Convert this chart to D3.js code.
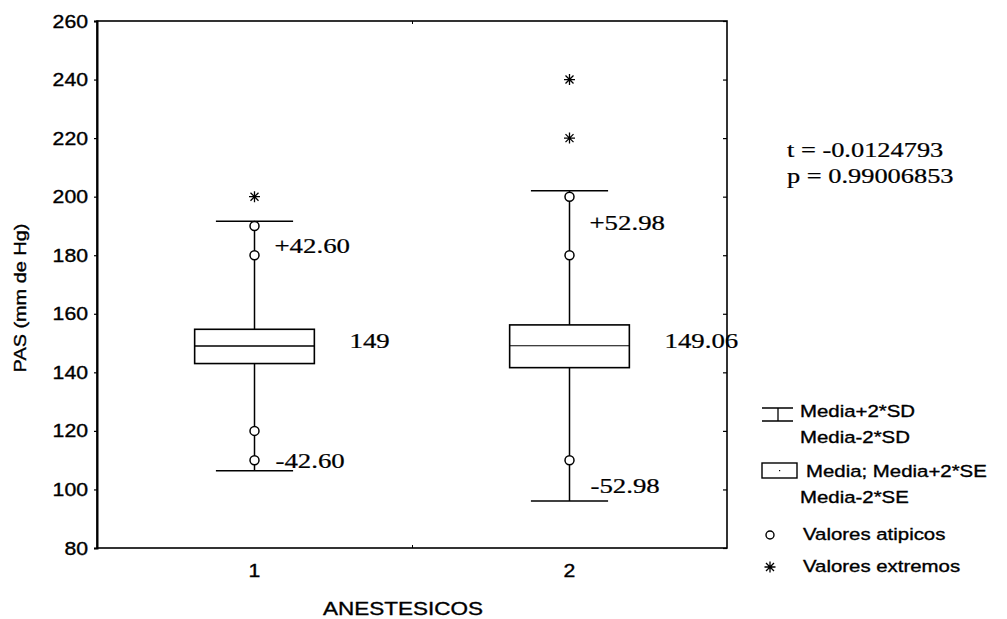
<!DOCTYPE html>
<html>
<head>
<meta charset="utf-8">
<script src="https://cdn.jsdelivr.net/npm/d3@7"></script>
<style>
body { margin: 0; background: #fff; }
</style>
</head>
<body>
<div id="chart"></div>
<script>
// data
var categories = [1, 2];
var means = [149, 149.06];
var twoSD = [42.60, 52.98];
var seUpper = [154.7, 156.2];
var seLower = [143.0, 141.6];
var outliers = [[190, 180, 120, 110], [200, 180, 110]];
var extremes = [[200], [240, 220]];
var yTicks = [80, 100, 120, 140, 160, 180, 200, 220, 240, 260];
var xMinorTicks = [1.5];
var xTickLabels = ["1", "2"];
var meanLabels = ["149", "149.06"];
var upperLabels = ["+42.60", "+52.98"];
var lowerLabels = ["-42.60", "-52.98"];
var statLines = ["t = -0.0124793", "p = 0.99006853"];
var legendLines = [["Media+2*SD", "Media-2*SD"], ["Media; Media+2*SE", "Media-2*SE"], ["Valores atipicos"], ["Valores extremos"]];

(function() {
    var width = 1007,
        height = 619,
        plot = { left: 97, top: 21, right: 727, bottom: 548 };

    var sans = "'Liberation Sans', Arial, sans-serif",
        serif = "'Liberation Serif', 'Times New Roman', serif";

    var svg = d3.select("#chart")
        .append("svg")
        .attr("width", width)
        .attr("height", height);

    var x = d3.scaleLinear().domain([0.5, 2.5]).range([plot.left, plot.right]);
    var y = d3.scaleLinear().domain([80, 260]).range([plot.bottom, plot.top]);

    var boxW = 0.38,   // in category units
        capW = 0.245;

    // text with the wide look of the scan
    function addText(parent, px, py, str, o) {
        return parent.append("text")
            .attr("transform", "translate(" + px + "," + py + ")" +
                (o.rotate ? " rotate(" + o.rotate + ")" : "") +
                " scale(" + o.sx + ",1)")
            .attr("font-family", o.family)
            .attr("font-size", o.size)
            .attr("text-anchor", o.anchor || "start")
            .attr("fill", "#000")
            .attr("stroke", "#000")
            .attr("stroke-width", o.weight || 0.35)
            .text(str);
    }

    // frame
    svg.append("rect")
        .attr("x", plot.left)
        .attr("y", plot.top)
        .attr("width", plot.right - plot.left)
        .attr("height", plot.bottom - plot.top)
        .attr("fill", "none")
        .attr("stroke", "#000")
        .attr("stroke-width", 1.6);

    // left axis
    var yAxis = svg.append("g")
        .attr("transform", "translate(" + plot.left + ",0)")
        .call(d3.axisLeft(y).tickValues(yTicks).tickSize(3).tickFormat(d3.format("d")));
    yAxis.select(".domain").attr("stroke-width", 2);
    yAxis.selectAll(".tick line").attr("stroke-width", 1.2);
    yAxis.selectAll(".tick text").remove();
    yTicks.forEach(function(t) {
        addText(svg, plot.left - 9, y(t) + 6.5, String(t),
            { family: sans, size: 18, sx: 1.18, anchor: "end" });
    });

    // right axis, ticks inward
    var yRight = svg.append("g")
        .attr("transform", "translate(" + plot.right + ",0)")
        .call(d3.axisRight(y).tickValues(yTicks).tickSize(-4).tickFormat(""));
    yRight.select(".domain").remove();
    yRight.selectAll(".tick line").attr("stroke-width", 1.2);

    // bottom axis
    var xAxis = svg.append("g")
        .attr("transform", "translate(0," + plot.bottom + ")")
        .call(d3.axisBottom(x).tickValues(xMinorTicks).tickSize(-3).tickFormat(""));
    xAxis.select(".domain").remove();
    categories.forEach(function(c, i) {
        addText(svg, x(c), plot.bottom + 29, xTickLabels[i],
            { family: sans, size: 18, sx: 1.18, anchor: "middle" });
    });

    var xTop = svg.append("g")
        .attr("transform", "translate(0," + plot.top + ")")
        .call(d3.axisTop(x).tickValues(xMinorTicks).tickSize(-3).tickFormat(""));
    xTop.select(".domain").remove();

    // axis titles
    addText(svg, 403, 615, "ANESTESICOS", { family: sans, size: 18, sx: 1.25, anchor: "middle" });
    addText(svg, 26, 298, "PAS (mm de Hg)", { family: sans, size: 17, sx: 1.17, anchor: "middle", rotate: -90 });

    // boxes
    var g = svg.append("g");
    categories.forEach(function(c, i) {
        var cx = x(c),
            hb = (x(boxW) - x(0)) / 2,
            hc = (x(capW) - x(0)) / 2,
            hi = means[i] + twoSD[i],
            lo = means[i] - twoSD[i];

        g.append("line")
            .attr("x1", cx).attr("x2", cx)
            .attr("y1", y(hi)).attr("y2", y(lo))
            .attr("stroke", "#000").attr("stroke-width", 1.5);
        [hi, lo].forEach(function(v) {
            g.append("line")
                .attr("x1", cx - hc).attr("x2", cx + hc)
                .attr("y1", y(v)).attr("y2", y(v))
                .attr("stroke", "#000").attr("stroke-width", 1.5);
        });
        g.append("rect")
            .attr("x", cx - hb)
            .attr("y", y(seUpper[i]))
            .attr("width", hb * 2)
            .attr("height", y(seLower[i]) - y(seUpper[i]))
            .attr("fill", "#fff")
            .attr("stroke", "#000")
            .attr("stroke-width", 1.6);
        g.append("line")
            .attr("x1", cx - hb).attr("x2", cx + hb)
            .attr("y1", y(means[i])).attr("y2", y(means[i]))
            .attr("stroke", "#000").attr("stroke-width", i === 0 ? 1.6 : 1.1);

        outliers[i].forEach(function(v) {
            g.append("circle")
                .attr("cx", cx).attr("cy", y(v)).attr("r", 4.5)
                .attr("fill", "#fff").attr("stroke", "#000").attr("stroke-width", 1.5);
        });
        extremes[i].forEach(function(v) {
            drawStar(g, cx, y(v));
        });
    });

    function drawStar(parent, px, py) {
        var s = 5.5, d = 4;
        parent.append("path")
            .attr("d", "M" + (px - s) + "," + py + "H" + (px + s) +
                "M" + px + "," + (py - s) + "V" + (py + s) +
                "M" + (px - d) + "," + (py - d) + "L" + (px + d) + "," + (py + d) +
                "M" + (px - d) + "," + (py + d) + "L" + (px + d) + "," + (py - d))
            .attr("stroke", "#000")
            .attr("stroke-width", 1.3)
            .attr("fill", "none");
    }

    // value annotations (pixel offsets from the marks)
    var upperDy = [32, 39],
        lowerDy = [-3, -8];
    var serifOpt = { family: serif, size: 22, sx: 1.22, weight: 0.25 };
    categories.forEach(function(c, i) {
        addText(svg, x(c) + 20, y(means[i] + twoSD[i]) + upperDy[i], upperLabels[i], serifOpt);
        addText(svg, x(c) + 21, y(means[i] - twoSD[i]) + lowerDy[i], lowerLabels[i], serifOpt);
        addText(svg, x(c) + 95, y(means[i]) + 2.5, meanLabels[i], serifOpt);
    });

    // t-test result
    statLines.forEach(function(s, i) {
        addText(svg, 787, 157 + i * 26, s, { family: serif, size: 22, sx: 1.2, weight: 0.25 });
    });

    // legend
    var leg = svg.append("g");
    var lx = 762;
    var legendX = [800, 806, 803, 803];
    var legendBase = [417, 477, 540, 572];
    var lineGap = 26;

    // whisker symbol
    leg.append("path")
        .attr("d", "M" + lx + ",408H" + (lx + 31) + "M" + (lx + 16) + ",408V421M" + lx + ",421H" + (lx + 31))
        .attr("stroke", "#000").attr("stroke-width", 1.3).attr("fill", "none");
    // box symbol
    leg.append("rect")
        .attr("x", lx).attr("y", 463).attr("width", 35).attr("height", 15)
        .attr("fill", "#fff").attr("stroke", "#000").attr("stroke-width", 1.4);
    leg.append("rect")
        .attr("x", lx + 17).attr("y", 470).attr("width", 1.2).attr("height", 1.2)
        .attr("fill", "#000");
    // outlier symbol
    leg.append("circle")
        .attr("cx", 770).attr("cy", 535).attr("r", 4)
        .attr("fill", "#fff").attr("stroke", "#000").attr("stroke-width", 1.4);
    // extreme symbol
    drawStar(leg, 770, 567);

    legendLines.forEach(function(lines, i) {
        lines.forEach(function(t, j) {
            addText(leg, legendX[i] + (j > 0 && i === 1 ? -6 : 0), legendBase[i] + j * lineGap, t,
                { family: sans, size: 17, sx: 1.2 });
        });
    });
})();
</script>
</body>
</html>
